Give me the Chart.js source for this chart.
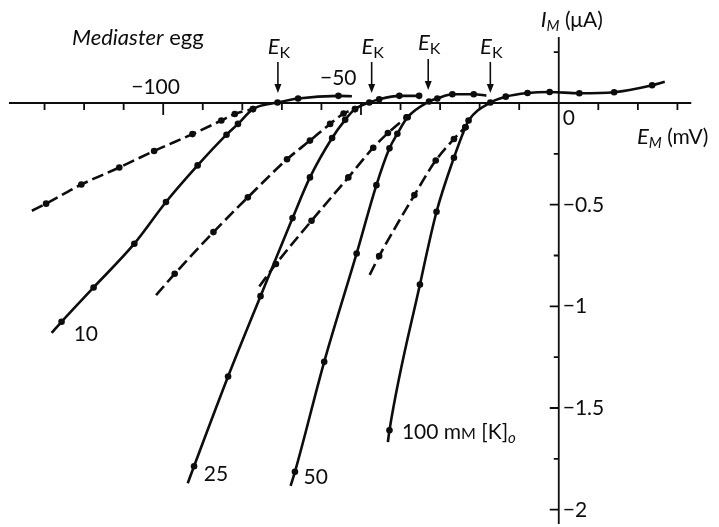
<!DOCTYPE html>
<html>
<head>
<meta charset="utf-8">
<script src="https://cdn.jsdelivr.net/npm/chart.js@4.4.1/dist/chart.umd.min.js"></script>
<style>
  html, body { margin: 0; padding: 0; background: #fff; }
  #wrap { width: 719px; height: 527px; position: relative; }
</style>
</head>
<body>
<div id="wrap"><canvas id="ivChart"></canvas></div>
<script>
// membrane potential E_M (mV) and current I_M (uA)
// 10 mM [K]o
const k10Em = [-128.2, -125.7, -117.6, -107.3, -99.3, -91.3, -84.0, -81.1, -77.3, -71.1, -65.9, -55.7, -52.3];
const k10Im = [-1.131, -1.076, -0.907, -0.692, -0.487, -0.307, -0.156, -0.103, -0.030, 0.002, 0.022, 0.035, 0.033];
const k10DashEm = [-133.2, -129.6, -120.7, -111.1, -102.3, -92.6, -85.3, -81.9, -77.3];
const k10DashIm = [-0.530, -0.495, -0.401, -0.317, -0.236, -0.153, -0.086, -0.054, -0.030];
// 25 mM
const k25Em = [-93.8, -92.2, -83.6, -75.4, -67.3, -62.9, -57.3, -54.0, -51.5, -47.9, -45.4, -40.3, -35.3];
const k25Im = [-1.870, -1.786, -1.345, -0.950, -0.566, -0.366, -0.172, -0.083, -0.030, 0.002, 0.018, 0.035, 0.035];
const k25DashEm = [-101.8, -97.1, -87.3, -78.6, -68.7, -62.9, -57.8, -54.4, -51.5];
const k25DashIm = [-0.945, -0.840, -0.635, -0.464, -0.277, -0.185, -0.103, -0.052, -0.030];
// 50 mM
const k50Em = [-67.8, -66.7, -59.3, -51.1, -46.1, -42.8, -40.8, -38.2, -32.8, -30.7, -26.9, -21.5, -18.3];
const k50Im = [-1.883, -1.814, -1.273, -0.740, -0.404, -0.223, -0.151, -0.070, 0.007, 0.022, 0.043, 0.043, 0.036];
const k50DashEm = [-75.7, -71.5, -62.5, -53.2, -46.9, -43.2, -38.5];
const k50DashIm = [-0.902, -0.792, -0.579, -0.366, -0.220, -0.148, -0.070];
// 100 mM
const k100Em = [-43.2, -42.8, -35.1, -30.9, -26.5, -23.6, -22.8, -17.3, -13.4, -7.9, -2.3, 5.2, 14.0, 23.6, 26.8];
const k100Im = [-1.668, -1.609, -0.893, -0.535, -0.269, -0.119, -0.086, 0.002, 0.031, 0.049, 0.054, 0.048, 0.053, 0.087, 0.104];
const k100DashEm = [-47.8, -45.4, -36.5, -31.1, -26.5, -23.6];
const k100DashIm = [-0.845, -0.753, -0.453, -0.283, -0.177, -0.119];

// potassium equilibrium potentials marked by arrows
const ekValues = [-71.0, -47.3, -33.0, -17.3];

// axis ticks
const xTickValues = [-130, -120, -110, -100, -90, -80, -70, -60, -50, -40, -30, -20, -10, 10, 20, 30];
const xTickLabels = ['−100', '−50'];
const yTickValues = [0.25, -0.25, -0.5, -0.75, -1, -1.25, -1.5, -1.75, -2];
const yTickLabels = ['−0.5', '−1', '−1.5', '−2'];

const INK = '#0d0d0d';
const FONT = 'Lato, "Noto Sans", sans-serif';

function curve(xs, ys, dashed, dotFirst, dotLast) {
    const n = xs.length;
    return {
        data: xs.map((x, i) => ({ x: x, y: ys[i] })),
        borderColor: INK,
        borderWidth: 2.6,
        borderDash: dashed ? [12, 5] : [],
        pointRadius: xs.map((_, i) => ((i === 0 && !dotFirst) || (i === n - 1 && !dotLast)) ? 0 : 3.3),
        pointBackgroundColor: INK,
        pointBorderWidth: 0,
        cubicInterpolationMode: 'monotone',
        fill: false
    };
}

// draw a run of text pieces (italic / subscript) on one baseline
function drawRich(ctx, x, y, parts, align) {
    const widths = parts.map(p => {
        ctx.font = (p.italic ? 'italic ' : '') + (p.size || 21) + 'px ' + FONT;
        return ctx.measureText(p.t).width;
    });
    const total = widths.reduce((a, b) => a + b, 0);
    let cx = align === 'center' ? x - total / 2 : x;
    ctx.textAlign = 'left';
    ctx.textBaseline = 'alphabetic';
    parts.forEach((p, i) => {
        ctx.font = (p.italic ? 'italic ' : '') + (p.size || 21) + 'px ' + FONT;
        ctx.fillText(p.t, cx, y + (p.dy || 0));
        cx += widths[i];
    });
}

const axesPlugin = {
    id: 'axesPlugin',
    beforeDatasetsDraw(chart) {
        const ctx = chart.ctx;
        const sx = chart.scales.x, sy = chart.scales.y;
        const x0 = sx.getPixelForValue(0), y0 = sy.getPixelForValue(0);
        ctx.save();
        ctx.strokeStyle = INK;
        ctx.lineWidth = 1.8;
        ctx.beginPath();
        ctx.moveTo(sx.getPixelForValue(-139), y0);
        ctx.lineTo(sx.getPixelForValue(33.5), y0);
        ctx.moveTo(x0, sy.getPixelForValue(0.325));
        ctx.lineTo(x0, sy.getPixelForValue(-2.07));
        xTickValues.forEach(v => {
            const px = sx.getPixelForValue(v);
            const len = (v === -100 || v === -50) ? 12 : 7;
            ctx.moveTo(px, y0);
            ctx.lineTo(px, y0 + len);
        });
        yTickValues.forEach(v => {
            const py = sy.getPixelForValue(v);
            const len = (Math.abs(v * 2 - Math.round(v * 2)) < 1e-6) ? 9 : 5;
            ctx.moveTo(x0 - len, py);
            ctx.lineTo(x0, py);
        });
        ctx.stroke();
        ctx.restore();
    },
    afterDatasetsDraw(chart) {
        const ctx = chart.ctx;
        const sx = chart.scales.x, sy = chart.scales.y;
        const x0 = sx.getPixelForValue(0), y0 = sy.getPixelForValue(0);
        ctx.save();
        ctx.fillStyle = INK;
        ctx.strokeStyle = INK;

        // x tick labels (above the axis) and the origin
        drawRich(ctx, sx.getPixelForValue(-100) - 32, y0 - 9, [{ t: xTickLabels[0] }]);
        drawRich(ctx, sx.getPixelForValue(-50) - 41, y0 - 18, [{ t: xTickLabels[1] }]);
        drawRich(ctx, x0 + 4, y0 + 22, [{ t: '0' }]);

        // y tick labels (right of the axis)
        [-0.5, -1, -1.5, -2].forEach((v, i) => {
            drawRich(ctx, x0 + 4, sy.getPixelForValue(v) + 7, [{ t: yTickLabels[i] }]);
        });

        // axis titles
        drawRich(ctx, x0 - 18, 27, [{ t: 'I', italic: true, size: 22 }, { t: 'M', italic: true, size: 15, dy: 4 }, { t: ' (μA)' }]);
        drawRich(ctx, 637, y0 + 41, [{ t: 'E', italic: true, size: 22 }, { t: 'M', italic: true, size: 15, dy: 4 }, { t: ' (mV)' }]);
        drawRich(ctx, 72, 45, [{ t: 'Mediaster', italic: true, size: 22 }, { t: ' egg', size: 22 }]);

        // E_K arrows
        ekValues.forEach((v, i) => {
            const px = sx.getPixelForValue(v);
            const up = i === 2 ? 3 : 0;
            drawRich(ctx, px + 1, 54 - up * 1.5, [{ t: 'E', italic: true, size: 22 }, { t: 'K', size: 16, dy: 4 }], 'center');
            const top = 62 - up, bottom = 93 - up;
            ctx.lineWidth = 1.6;
            ctx.beginPath();
            ctx.moveTo(px, top);
            ctx.lineTo(px, bottom - 4);
            ctx.stroke();
            ctx.beginPath();
            ctx.moveTo(px - 3.5, bottom - 9);
            ctx.lineTo(px, bottom);
            ctx.lineTo(px + 3.5, bottom - 9);
            ctx.closePath();
            ctx.fill();
        });

        // curve labels next to the lower ends of the solid curves
        const lx = (v) => sx.getPixelForValue(v), ly = (v) => sy.getPixelForValue(v);
        drawRich(ctx, lx(k10Em[0]) + 22, ly(k10Im[0]) + 8, [{ t: '10' }]);
        drawRich(ctx, lx(k25Em[0]) + 16, ly(k25Im[0]) - 2, [{ t: '25' }]);
        drawRich(ctx, lx(k50Em[0]) + 13, ly(k50Im[0]) - 2, [{ t: '50' }]);
        drawRich(ctx, lx(k100Em[0]) + 14, ly(k100Im[0]) - 3,
            [{ t: '100 m' }, { t: 'M', size: 16 }, { t: ' [K]' }, { t: 'o', italic: true, size: 15, dy: 4 }]);
        ctx.restore();
    }
};

const ivCtx = document.getElementById('ivChart').getContext('2d');
const ivChart = new Chart(ivCtx, {
    type: 'line',
    data: {
        datasets: [
            curve(k10Em, k10Im, false, false, false),
            curve(k10DashEm, k10DashIm, true, false, true),
            curve(k25Em, k25Im, false, false, true),
            curve(k25DashEm, k25DashIm, true, false, true),
            curve(k50Em, k50Im, false, false, false),
            curve(k50DashEm, k50DashIm, true, false, true),
            curve(k100Em, k100Im, false, false, false),
            curve(k100DashEm, k100DashIm, true, false, true)
        ]
    },
    options: {
        responsive: true,
        maintainAspectRatio: false,
        animation: false,
        events: [],
        layout: { padding: 0 },
        plugins: { legend: { display: false }, tooltip: { enabled: false } },
        scales: {
            x: { type: 'linear', min: -140.25, max: 39.5, display: false },
            y: { type: 'linear', min: -2.0654, max: 0.4867, display: false }
        }
    },
    plugins: [axesPlugin]
});
</script>
</body>
</html>
